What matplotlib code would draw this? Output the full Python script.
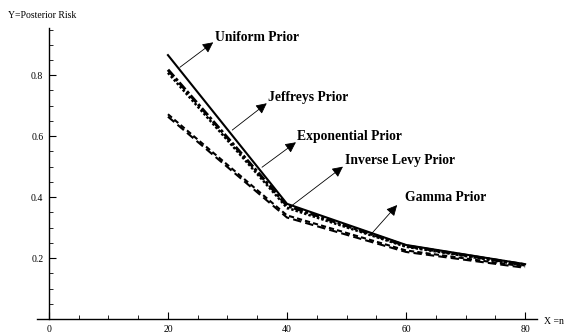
import matplotlib
matplotlib.use('Agg')
import matplotlib.pyplot as plt
from matplotlib.ticker import MultipleLocator

plt.rcParams['font.family'] = ['Liberation Serif', 'DejaVu Serif']

# 표본크기 n
n = [20, 40, 60, 80]

# 사전분포별 사후위험
uniform = [0.866, 0.378, 0.243, 0.180]
jeffreys = [0.818, 0.372, 0.240, 0.178]
exponential = [0.808, 0.365, 0.237, 0.176]
inv_levy = [0.672, 0.340, 0.225, 0.172]
gamma = [0.664, 0.333, 0.220, 0.168]

labels = ['Uniform Prior', 'Jeffreys Prior', 'Exponential Prior',
          'Inverse Levy Prior', 'Gamma Prior']

fig = plt.figure(figsize=(5.68, 3.33), dpi=100)
ax = fig.add_axes([37/568, 14/333, 500/568, 291/333])

ax.plot(n, uniform, color='black', lw=1.5, ls='-')
ax.plot(n, jeffreys, color='black', lw=2.2, ls=(0, (3, 0.8, 1, 0.8)))
ax.plot(n, exponential, color='black', lw=1.8, ls=(0, (1, 0.8)))
ax.plot(n, inv_levy, color='black', lw=1.5, ls=(0, (2.5, 1.5)))
ax.plot(n, gamma, color='black', lw=1.5, ls=(0, (4, 2)))

# 화살표 (꼬리 -> 머리), 라벨 위치
tails = [(22.0, 0.826), (30.8, 0.62), (35.8, 0.498), (40.0, 0.36), (54.3, 0.282)]
heads = [(27.6, 0.908), (36.6, 0.708), (41.5, 0.58), (49.4, 0.50), (58.5, 0.374)]
text_pos = [(27.9, 0.925), (36.8, 0.727), (41.7, 0.60), (49.7, 0.52), (59.8, 0.40)]

for lab, t, h, p in zip(labels, tails, heads, text_pos):
    ax.annotate('', xy=h, xytext=t,
                arrowprops=dict(arrowstyle='-|>', color='black', lw=0.6,
                                mutation_scale=16, shrinkA=0, shrinkB=0))
    ax.text(p[0], p[1], lab, fontsize=9.8, fontweight='bold', ha='left', va='center')

ax.set_xlim(-2, 82)
ax.set_ylim(0, 0.955)

for s in ['top', 'right']:
    ax.spines[s].set_visible(False)
ax.spines['left'].set_position(('data', 0))
ax.spines['bottom'].set_position(('data', 0))
ax.spines['left'].set_linewidth(1.0)
ax.spines['bottom'].set_linewidth(1.0)

ax.xaxis.set_major_locator(MultipleLocator(20))
ax.xaxis.set_minor_locator(MultipleLocator(5))
ax.yaxis.set_major_locator(MultipleLocator(0.2))
ax.yaxis.set_minor_locator(MultipleLocator(0.05))
ax.set_yticks([0.2, 0.4, 0.6, 0.8])
ax.set_yticklabels(['0.2', '0.4', '0.6', '0.8'])
ax.tick_params(which='major', direction='in', length=5, width=0.8, labelsize=7)
ax.tick_params(which='minor', direction='in', length=3, width=0.6)
ax.tick_params(axis='x', pad=4)
ax.tick_params(axis='y', pad=4)

fig.text(8/568, 1 - 15/333, 'Y=Posterior Risk', fontsize=7, ha='left', va='center')
fig.text(544/568, 1 - 322/333, 'X =n', fontsize=7, ha='left', va='center')

fig.savefig('out.png', dpi=100)
